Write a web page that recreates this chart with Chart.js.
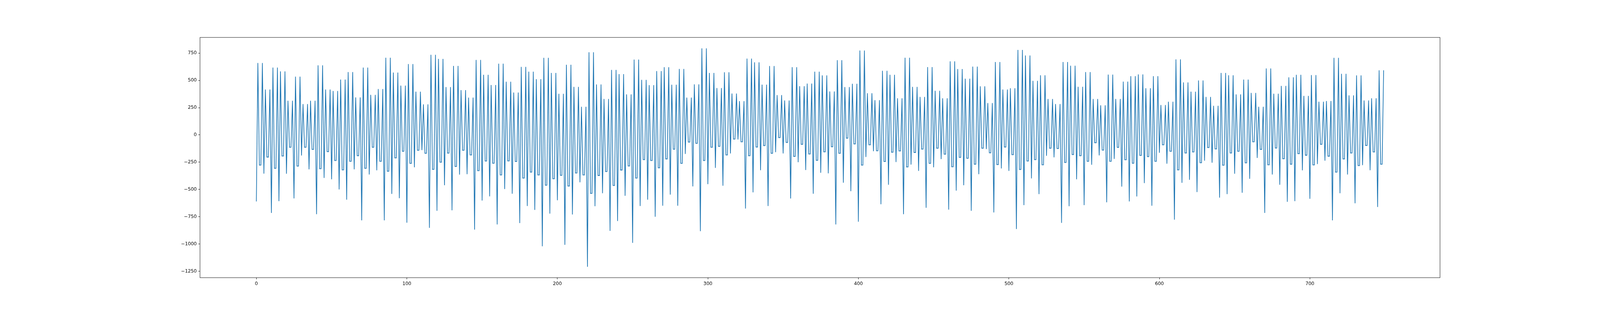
<!DOCTYPE html>
<html>
<head>
<meta charset="utf-8">
<script src="https://cdn.jsdelivr.net/npm/chart.js@4.4.1/dist/chart.umd.min.js"></script>
<style>
  html, body { margin: 0; padding: 0; background: #ffffff; overflow: hidden; }
  #plot { display: block; }
</style>
</head>
<body>
<canvas id="plot"></canvas>
<script>
// values, x = 0..249
let seriesA = [
  -610,660,-277,-277,660, -355,417,-203,-203,417, -715,618,-306,-306,618, -607,583,-194,-194,583, -356,314,-113,-113,314,
  -582,535,-286,-286,535, -189,283,-113,-113,283, -316,314,-133,-133,314, -727,638,-310,-310,638, -394,417,-153,-153,417,
  -407,403,-235,-235,403, -500,508,-321,-321,508, -594,577,-242,-242,577, -316,344,-191,-191,344, -783,618,-306,-306,618,
  -363,367,-113,-113,367, -325,421,-242,-242,421, -783,708,-333,-333,708, -541,572,-211,-211,572, -580,452,-150,-150,452,
  -805,650,-261,-261,650, -297,397,-141,-141,397, -139,281,-169,-169,281, -852,735,-316,-316,735, -696,697,-250,-250,697,
  -461,439,-167,-167,439, -691,633,-289,-289,633, -364,411,-141,-141,411, -360,342,-184,-184,342, -868,688,-328,-328,688,
  -602,552,-239,-239,552, -563,458,-260,-260,458, -821,654,-367,-367,654, -496,488,-238,-238,488, -539,389,-244,-244,389,
  -808,624,-396,-396,624, -652,580,-341,-341,580, -688,511,-367,-367,511, -1021,707,-461,-461,707, -722,569,-402,-402,569,
  -599,377,-371,-371,377, -1008,644,-469,-469,644, -730,441,-349,-349,441, -435,258,-367,-367,258, -1209,758,-536,-536,758,
  -654,463,-372,-372,463, -535,330,-336,-336,330, -880,596,-464,-464,596, -790,558,-322,-322,558, -558,372,-285,-285,372
];

// x = 250..499
let seriesB = [
  -990,691,-396,-396,691, -652,505,-227,-227,505, -594,457,-235,-235,457, -750,586,-302,-302,586, -649,621,-220,-220,621,
  -547,460,-131,-131,460, -649,605,-261,-261,605, -174,342,-66,-66,342, -472,464,-77,-77,464, -883,794,-235,-235,794,
  -452,569,-113,-113,569, -302,430,-105,-105,430, -466,575,-184,-184,575, -170,380,-38,-38,380, -42,310,-63,-63,310,
  -675,700,-191,-191,700, -527,666,-111,-111,666, -324,461,-98,-98,461, -652,632,-169,-169,632, -158,366,-25,-25,366,
  -170,316,-69,-69,316, -583,621,-197,-197,621, -250,447,-86,-86,447, -322,471,-175,-175,471, -539,580,-233,-233,580,
  -347,546,-155,-155,546, -352,399,-109,-109,399, -821,686,-169,-169,686, -438,439,-30,-30,439, -516,469,-83,-83,469,
  -796,774,-277,-277,774, -202,383,-91,-91,383, -149,319,-145,-145,319, -636,588,-244,-244,588, -457,552,-159,-159,552,
  -249,336,-147,-147,336, -727,708,-294,-294,708, -272,441,-161,-161,441, -330,349,-130,-130,349, -668,622,-261,-261,622,
  -297,405,-122,-122,405, -222,336,-177,-177,336, -685,675,-292,-292,675, -511,604,-206,-206,604, -461,516,-214,-214,516,
  -696,627,-269,-269,627, -360,446,-122,-122,446, -130,292,-164,-164,292, -711,669,-272,-272,669, -308,417,-111,-111,417
];

// x = 500..749
let seriesC = [
  -330,428,-181,-181,428, -863,780,-317,-317,780, -644,729,-239,-239,729, -399,496,-227,-227,496, -543,547,-274,-274,547,
  -191,330,-122,-122,330, -206,283,-125,-125,283, -807,669,-253,-253,669, -654,635,-180,-180,635, -407,442,-191,-191,442,
  -644,577,-242,-242,577, -274,330,-72,-72,330, -188,272,-139,-139,272, -618,553,-242,-242,553, -220,330,-114,-114,330,
  -474,489,-228,-228,489, -610,539,-260,-260,539, -564,555,-188,-188,555, -442,428,-199,-199,428, -649,539,-242,-242,539,
  -164,274,-91,-91,274, -264,305,-150,-150,305, -777,693,-321,-321,693, -439,482,-166,-166,482, -411,397,-156,-156,397,
  -524,500,-255,-255,500, -236,349,-116,-116,349, -255,267,-128,-128,267, -575,569,-278,-278,569, -543,547,-166,-166,547,
  -356,372,-150,-150,372, -530,508,-256,-256,508, -402,385,-63,-63,385, -211,258,-133,-133,258, -715,610,-274,-274,610,
  -363,378,-120,-120,378, -457,450,-219,-219,450, -613,528,-269,-269,528, -607,552,-172,-172,552, -325,358,-186,-186,358,
  -586,549,-275,-275,549, -267,305,-86,-86,305, -236,311,-195,-195,311, -783,707,-341,-341,707, -535,561,-220,-220,561,
  -363,363,-166,-166,363, -627,546,-281,-281,546, -277,316,-97,-97,316, -324,336,-156,-156,336, -661,593,-269,-269,593
];

let xTicks = [0, 100, 200, 300, 400, 500, 600, 700];
let yTicks = [-1250, -1000, -750, -500, -250, 0, 250, 500, 750];

let values = seriesA.concat(seriesB, seriesC);
let points = values.map(function (v, i) {
    return { x: i, y: v };
});

// same 5% margins matplotlib puts round the data
let n = values.length - 1;
let yLo = Math.min.apply(null, values);
let yHi = Math.max.apply(null, values);
let yPad = (yHi - yLo) * 0.05;

/*size the canvas to whatever window we get, and keep matplotlib's subplot fractions*/
let W = window.innerWidth || 4800;
let H = window.innerHeight || 800;
let k = W / 4800;

let canvas = document.getElementById("plot");
canvas.width = W;
canvas.height = H;
canvas.style.width = W + "px";
canvas.style.height = H + "px";

/*the frame round the plot, like the four spines*/
let framePlugin = {
    id: "frame",
    afterDraw: function (chart) {
        let a = chart.chartArea;
        let c = chart.ctx;
        c.save();
        c.strokeStyle = "#000000";
        c.lineWidth = 1.1 * k;
        c.strokeRect(a.left, a.top, a.right - a.left, a.bottom - a.top);
        c.restore();
    }
};

let tickFont = { family: "'DejaVu Sans', sans-serif", size: 13.9 * k };

let tickGrid = {
    drawOnChartArea: false,
    drawTicks: true,
    tickLength: 4.9 * k,
    color: "#000000",
    lineWidth: 1.1 * k
};

let chart = new Chart(canvas.getContext("2d"), {
    type: "line",
    data: {
        datasets: [
            {
            data: points,
            borderColor: "#1f77b4",
            borderWidth: 2.08 * k,
            pointRadius: 0,
            tension: 0,
            fill: false
            }
        ]
    },
    options: {
        responsive: false,
        animation: false,
        devicePixelRatio: 1,
        layout: {
            padding: { top: 0.12 * H, right: 0.1 * W, left: 0, bottom: 0 }
        },
        plugins: {
            legend: { display: false },
            tooltip: { enabled: false }
        },
        scales: {
            x: {
                type: "linear",
                min: -0.05 * n,
                max: n * 1.05,
                afterFit: function (scale) { scale.height = 0.11 * H; },
                afterBuildTicks: function (scale) {
                    scale.ticks = xTicks.map(function (v) { return { value: v }; });
                },
                border: { display: false },
                grid: tickGrid,
                ticks: {
                    color: "#000000",
                    font: tickFont,
                    padding: 4.9 * k,
                    maxRotation: 0,
                    callback: function (v) { return String(v); }
                }
            },
            y: {
                type: "linear",
                min: yLo - yPad,
                max: yHi + yPad,
                afterFit: function (scale) { scale.width = 0.125 * W; },
                afterBuildTicks: function (scale) {
                    scale.ticks = yTicks.map(function (v) { return { value: v }; });
                },
                border: { display: false },
                grid: tickGrid,
                ticks: {
                    color: "#000000",
                    font: tickFont,
                    padding: 4.9 * k,
                    callback: function (v) {
                        return v < 0 ? "\u2212" + Math.abs(v) : String(v);
                    }
                }
            }
        }
    },
    plugins: [framePlugin]
});
</script>
</body>
</html>
